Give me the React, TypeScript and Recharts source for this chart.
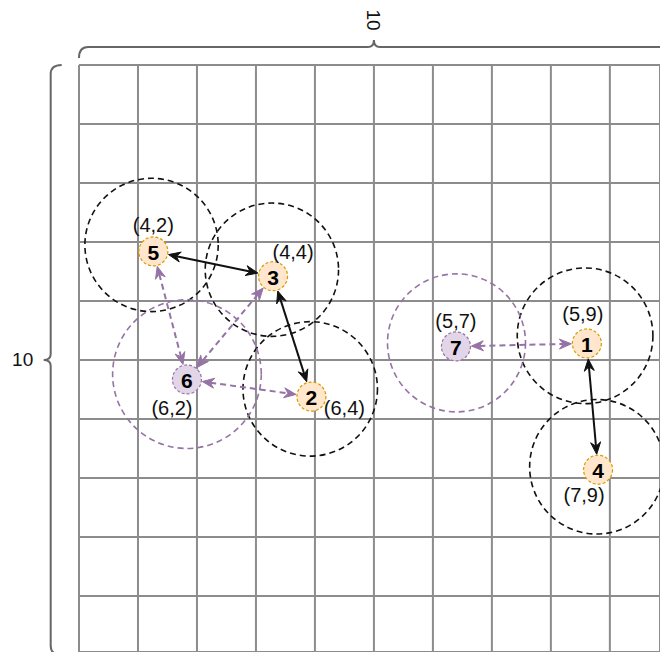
// Grid placement diagram — nodes with range circles and links (recharts)

import {
  ScatterChart,
  Scatter,
  XAxis,
  YAxis,
  CartesianGrid,
  ReferenceLine,
} from 'recharts';

// grid, in cell units (y grows downward)
const gridTicks = [0, 1, 2, 3, 4, 5, 6, 7, 8, 9];
const xDomainMax = 9.85;
const yDomainMax = 9.95;
const gridSize = 10;
const sizeLabel = '10';

// nodes
const nodeIds = ['1', '2', '3', '4', '5', '6', '7'];
const nodeX = [8.61, 3.94, 3.29, 8.8, 1.26, 1.83, 6.39];
const nodeY = [4.72, 5.62, 3.58, 6.86, 3.16, 5.33, 4.77];
const nodeCoords = ['(5,9)', '(6,4)', '(4,4)', '(7,9)', '(4,2)', '(6,2)', '(5,7)'];
const nodeKind = ['main', 'main', 'main', 'main', 'main', 'relay', 'relay'];

// range circles around each node
const rangeX = [8.58, 3.92, 3.27, 8.78, 1.23, 1.83, 6.4];
const rangeY = [4.59, 5.49, 3.47, 6.81, 3.05, 5.24, 4.71];
const rangeR = [1.15, 1.14, 1.13, 1.14, 1.13, 1.26, 1.17];

// links (node ids)
const solidLinks: [string, string][] = [
  ['5', '3'],
  ['3', '2'],
  ['1', '4'],
];
const dashedLinks: [string, string][] = [
  ['5', '6'],
  ['3', '6'],
  ['6', '2'],
  ['7', '1'],
];

const FONT = '"Liberation Sans", Arial, Helvetica, sans-serif';
const PURPLE = '#9673a6';
const NODE_R = 14.5;

const KIND_STYLE: Record<string, { fill: string; stroke: string; ring: string }> = {
  main: { fill: '#ffe6cc', stroke: '#d79b00', ring: '#111111' },
  relay: { fill: '#e1d5e7', stroke: '#9673a6', ring: PURPLE },
};

// where the coordinate text sits relative to its node (px)
const LABEL_OFFSET: Record<string, [number, number]> = {
  '1': [-4, -29],
  '2': [33, 11],
  '3': [20, -24],
  '4': [-14, 25],
  '5': [0, -26],
  '6': [-15, 29],
  '7': [0, -25],
};

const nodes = nodeIds.map((id, i) => ({
  id,
  x: nodeX[i],
  y: nodeY[i],
  coords: nodeCoords[i],
  kind: nodeKind[i],
}));

const nodeIndex = (id: string) => nodeIds.indexOf(id);

function NodeShape(props: any) {
  const { cx, cy, payload } = props;
  const s = KIND_STYLE[payload.kind];
  const [dx, dy] = LABEL_OFFSET[payload.id];
  return (
    <g>
      <circle
        cx={cx}
        cy={cy}
        r={NODE_R}
        fill={s.fill}
        stroke={s.stroke}
        strokeWidth={1.2}
        strokeDasharray="3 2"
      />
      <text
        x={cx}
        y={cy + 1}
        textAnchor="middle"
        dominantBaseline="central"
        fontFamily={FONT}
        fontWeight="bold"
        fontSize={21}
        fill="#000"
      >
        {payload.id}
      </text>
      <text
        x={cx + dx}
        y={cy + dy}
        textAnchor="middle"
        dominantBaseline="central"
        fontFamily={FONT}
        fontSize={20}
        fill="#111"
      >
        {payload.coords}
      </text>
    </g>
  );
}

function arrowHead(tx: number, ty: number, ux: number, uy: number, color: string) {
  // ux,uy points in the direction the arrow travels
  const len = 12;
  const half = 5;
  const notch = 4;
  const bx = tx - ux * len;
  const by = ty - uy * len;
  const nx = -uy;
  const ny = ux;
  const pts = [
    [tx, ty],
    [bx + nx * half, by + ny * half],
    [tx - ux * (len - notch), ty - uy * (len - notch)],
    [bx - nx * half, by - ny * half],
  ]
    .map((p) => p.join(','))
    .join(' ');
  return <polygon points={pts} fill={color} stroke={color} strokeWidth={1} strokeLinejoin="miter" />;
}

function makeLinkShape(color: string, dashed: boolean) {
  return (props: any) => {
    const { x1, y1, x2, y2 } = props;
    const dx = x2 - x1;
    const dy = y2 - y1;
    const d = Math.sqrt(dx * dx + dy * dy) || 1;
    const ux = dx / d;
    const uy = dy / d;
    const gap = NODE_R + 1;
    const sx = x1 + ux * gap;
    const sy = y1 + uy * gap;
    const ex = x2 - ux * gap;
    const ey = y2 - uy * gap;
    return (
      <g>
        <line
          x1={sx + ux * 8}
          y1={sy + uy * 8}
          x2={ex - ux * 8}
          y2={ey - uy * 8}
          stroke={color}
          strokeWidth={2}
          strokeDasharray={dashed ? '6 4' : undefined}
        />
        {arrowHead(sx, sy, -ux, -uy, color)}
        {arrowHead(ex, ey, ux, uy, color)}
      </g>
    );
  };
}

function makeRingShape(color: string) {
  return (props: any) => {
    const { x1, y1, x2, y2 } = props;
    const r = Math.abs(x2 - x1) / 2;
    return (
      <circle
        cx={(x1 + x2) / 2}
        cy={(y1 + y2) / 2}
        r={r}
        fill="none"
        stroke={color}
        strokeWidth={1.6}
        strokeDasharray="6 4"
      />
    );
  };
}

function TopBrace(props: any) {
  const { x1, y1, x2 } = props;
  const y = y1;
  const mid = (x1 + x2) / 2;
  const d = `M ${x1} ${y + 11} Q ${x1} ${y} ${x1 + 9} ${y} L ${mid - 6} ${y} Q ${mid} ${y} ${mid} ${y - 7} Q ${mid} ${y} ${mid + 6} ${y} L ${x2 - 9} ${y} Q ${x2} ${y} ${x2} ${y + 11}`;
  return (
    <g>
      <path d={d} fill="none" stroke="#666" strokeWidth={2} />
      <text
        x={mid}
        y={y - 27}
        transform={`rotate(90 ${mid} ${y - 27})`}
        textAnchor="middle"
        dominantBaseline="central"
        fontFamily={FONT}
        fontSize={19}
        fill="#111"
      >
        {sizeLabel}
      </text>
    </g>
  );
}

function LeftBrace(props: any) {
  const { x1, y1, y2 } = props;
  const x = x1;
  const top = Math.min(y1, y2);
  const bot = Math.max(y1, y2);
  const mid = (top + bot) / 2;
  const d = `M ${x + 11} ${top} Q ${x} ${top} ${x} ${top + 9} L ${x} ${mid - 6} Q ${x} ${mid} ${x - 7} ${mid} Q ${x} ${mid} ${x} ${mid + 6} L ${x} ${bot - 9} Q ${x} ${bot} ${x + 11} ${bot}`;
  return (
    <g>
      <path d={d} fill="none" stroke="#666" strokeWidth={2} />
      <text
        x={x - 28}
        y={mid}
        textAnchor="middle"
        dominantBaseline="central"
        fontFamily={FONT}
        fontSize={19}
        fill="#111"
      >
        {sizeLabel}
      </text>
    </g>
  );
}

export default function App() {
  return (
    <div style={{ position: 'absolute', left: 0, top: 0, width: 660, height: 652, background: '#fff' }}>
      <ScatterChart
        width={660}
        height={652}
        margin={{ top: 65, left: 79, right: 0, bottom: 0 }}
      >
        <CartesianGrid stroke="#8c8c8c" strokeWidth={2} />
        <XAxis type="number" dataKey="x" domain={[0, xDomainMax]} ticks={gridTicks} hide allowDataOverflow />
        <YAxis type="number" dataKey="y" domain={[0, yDomainMax]} ticks={gridTicks} reversed hide allowDataOverflow />

        {/* size braces */}
        <ReferenceLine
          segment={[{ x: 0, y: -0.305 }, { x: gridSize, y: -0.305 }]}
          ifOverflow="visible"
          shape={TopBrace}
        />
        <ReferenceLine
          segment={[{ x: -0.48, y: 0 }, { x: -0.48, y: gridSize }]}
          ifOverflow="visible"
          shape={LeftBrace}
        />

        {/* range circles */}
        {nodeIds.map((id, i) => (
          <ReferenceLine
            key={`ring-${id}`}
            segment={[
              { x: rangeX[i] - rangeR[i], y: rangeY[i] },
              { x: rangeX[i] + rangeR[i], y: rangeY[i] },
            ]}
            ifOverflow="visible"
            shape={makeRingShape(KIND_STYLE[nodeKind[i]].ring)}
          />
        ))}

        {/* links */}
        {solidLinks.map(([a, b]) => (
          <ReferenceLine
            key={`s-${a}-${b}`}
            segment={[
              { x: nodeX[nodeIndex(a)], y: nodeY[nodeIndex(a)] },
              { x: nodeX[nodeIndex(b)], y: nodeY[nodeIndex(b)] },
            ]}
            ifOverflow="visible"
            shape={makeLinkShape('#111111', false)}
          />
        ))}
        {dashedLinks.map(([a, b]) => (
          <ReferenceLine
            key={`d-${a}-${b}`}
            segment={[
              { x: nodeX[nodeIndex(a)], y: nodeY[nodeIndex(a)] },
              { x: nodeX[nodeIndex(b)], y: nodeY[nodeIndex(b)] },
            ]}
            ifOverflow="visible"
            shape={makeLinkShape(PURPLE, true)}
          />
        ))}

        <Scatter data={nodes} shape={NodeShape} isAnimationActive={false} />
      </ScatterChart>
    </div>
  );
}
